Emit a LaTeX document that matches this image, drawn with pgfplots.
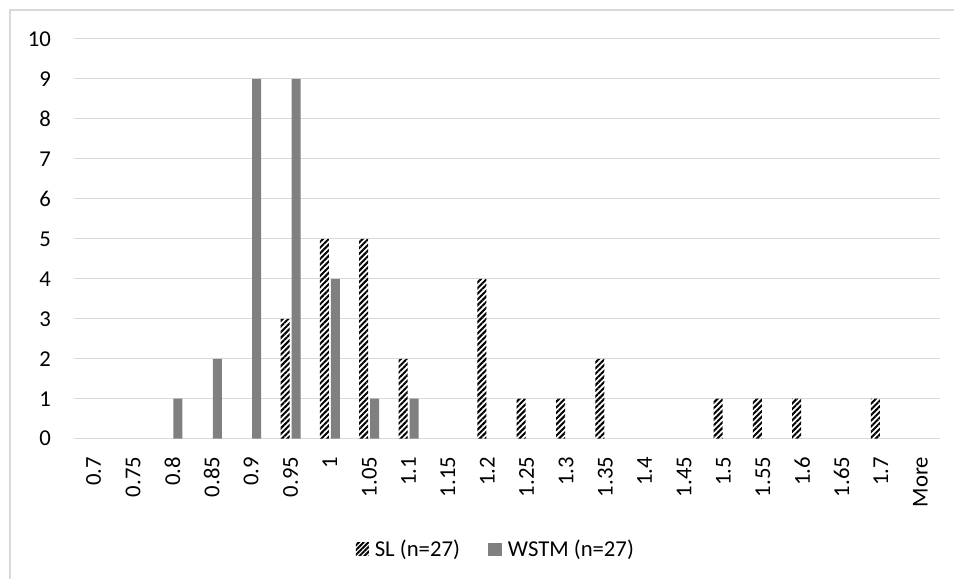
\documentclass[border=0pt]{standalone}
\usepackage{fontspec}
\setmainfont{Carlito}
\usepackage{pgfplots}
\pgfplotsset{compat=1.18}
\usetikzlibrary{patterns.meta}
\definecolor{gridgray}{HTML}{D9D9D9}
\definecolor{barGray}{HTML}{808080}
\newcommand{\chartfont}{\fontsize{22.7bp}{26bp}\selectfont}
\begin{document}
\begin{tikzpicture}[font=\chartfont]
\path[use as bounding box] (0,0) rectangle (954bp,579bp);
% chart frame (top and left edges)
\draw[gridgray, line width=1.5bp] (10bp,-5bp) -- (10bp,569bp) -- (960bp,569bp);
\begin{axis}[
  at={(74bp,140.3bp)}, anchor=south west,
  scale only axis,
  width=866bp, height=399.7bp,
  xmin=-0.5, xmax=21.5,
  ymin=0, ymax=10,
  ytick={0,1,...,10},
  xtick={0,1,...,21},
  xticklabels={0.7,0.75,0.8,0.85,0.9,0.95,1,1.05,1.1,1.15,1.2,1.25,1.3,1.35,1.4,1.45,1.5,1.55,1.6,1.65,1.7,More},
  axis line style={draw=none},
  major tick length=0pt,
  ymajorgrids,
  major grid style={gridgray, line width=1bp},
  /pgf/number format/assume math mode=true,
  tick label style={font=\chartfont},
  xticklabel style={rotate=90, anchor=east, inner sep=0pt},
  yticklabel style={anchor=east, inner sep=0pt},
  xticklabel shift=18bp,
  yticklabel shift=23bp,
  bar width=9bp,
  legend style={at={(0.486,-0.276)}, anchor=center, draw=none, font=\chartfont,
    legend columns=2, inner sep=0pt,
    nodes={inner sep=0pt},
    /tikz/every odd column/.append style={column sep=6bp},
    /tikz/every even column/.append style={column sep=28bp}},
  legend cell align=left,
]
\addplot[ybar, bar shift=-5.5bp, draw=none,
  pattern={Lines[angle=45, distance=4bp, line width=2bp]}, pattern color=black,
  legend image code/.code={\fill[pattern={Lines[angle=45, distance=3.4bp, line width=2bp]}, pattern color=black] (0bp,-6.5bp) rectangle (13bp,6.5bp);}]
  coordinates {(5,3) (6,5) (7,5) (8,2) (10,4) (11,1) (12,1) (13,2) (16,1) (17,1) (18,1) (20,1)};
\addlegendentry{SL (n=27)}
\addplot[ybar, bar shift=5.5bp, draw=none, fill=barGray,
  legend image code/.code={\fill[barGray] (0bp,-6.5bp) rectangle (14bp,6.5bp);}]
  coordinates {(2,1) (3,2) (4,9) (5,9) (6,4) (7,1) (8,1)};
\addlegendentry{WSTM (n=27)}
\end{axis}
\end{tikzpicture}
\end{document}
